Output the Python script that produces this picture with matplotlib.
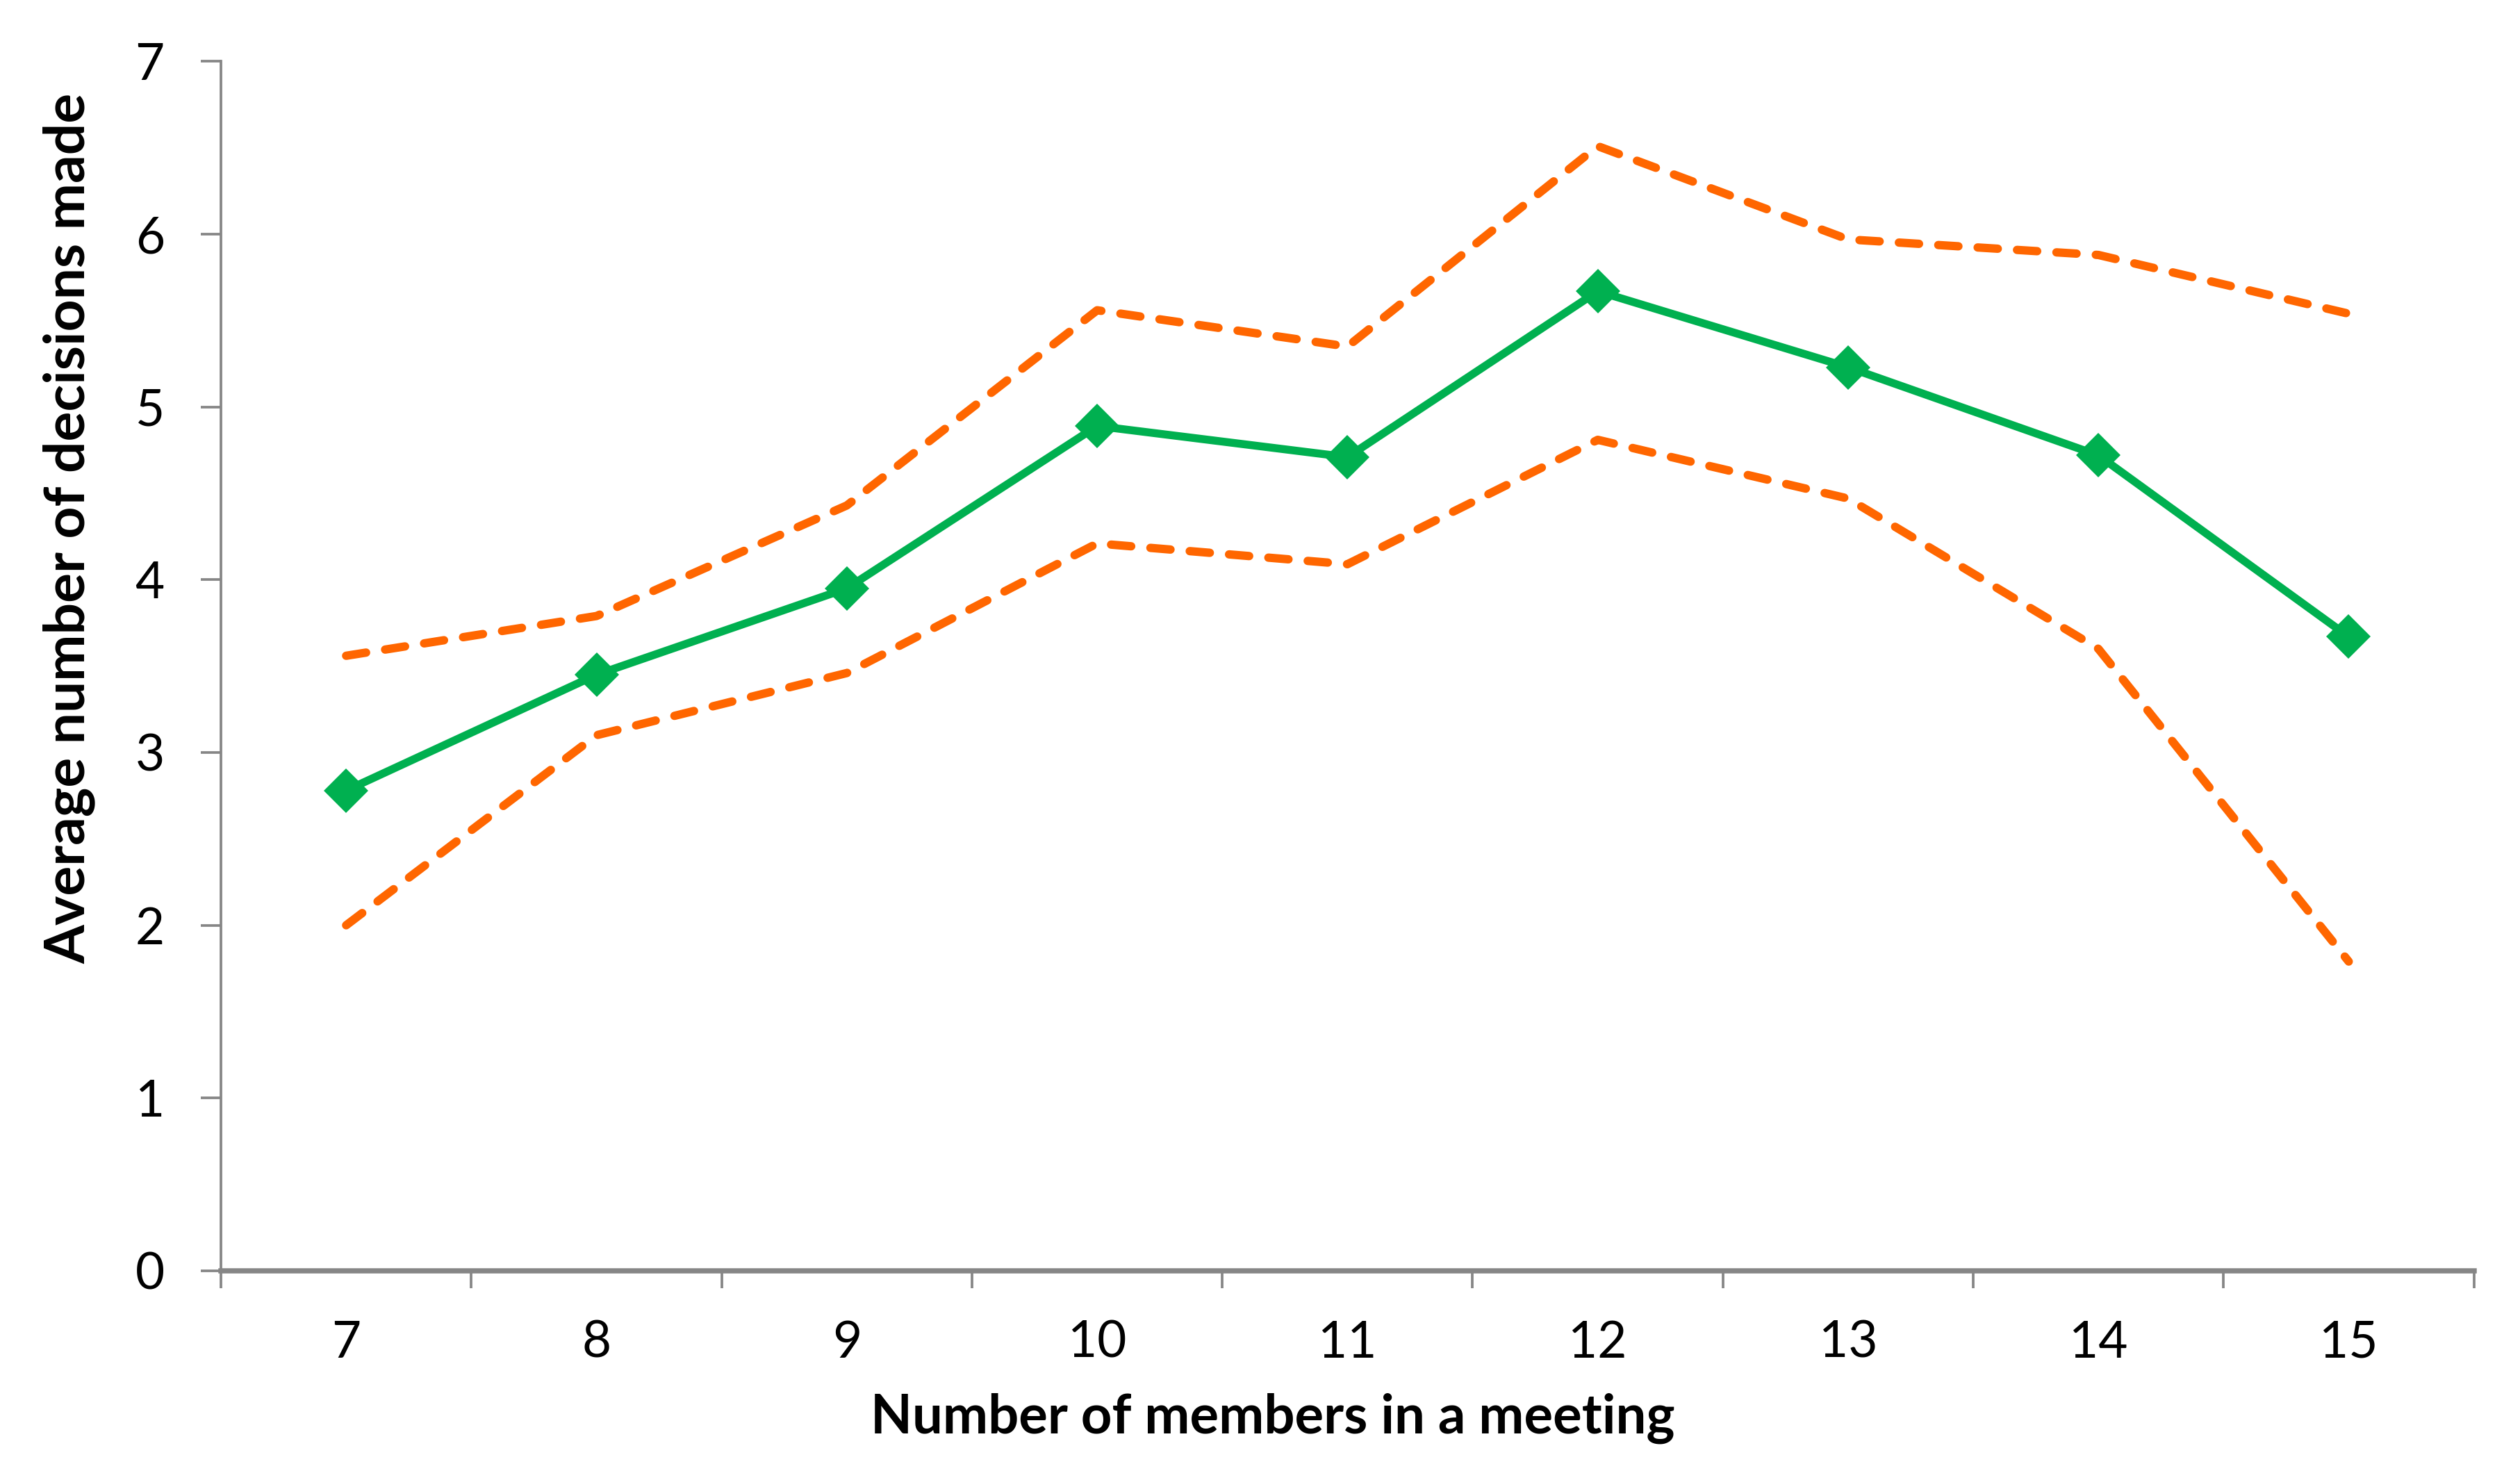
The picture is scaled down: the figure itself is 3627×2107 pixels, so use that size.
import matplotlib

matplotlib.use("Agg")

import matplotlib.pyplot as plt
from matplotlib.ticker import FixedLocator

members = [7, 8, 9, 10, 11, 12, 13, 14, 15]
avg_decisions = [2.78, 3.45, 3.95, 4.89, 4.71, 5.67, 5.23, 4.72, 3.67]
upper_bound = [3.56, 3.79, 4.43, 5.56, 5.35, 6.51, 5.97, 5.88, 5.54]
lower_bound = [2.00, 3.10, 3.46, 4.21, 4.09, 4.81, 4.47, 3.60, 1.79]
y_ticks = [0, 1, 2, 3, 4, 5, 6, 7]

GREEN = "#00B050"
ORANGE = "#FF6600"
AXIS_GREY = "#868686"

plt.rcParams["font.family"] = ["Lato", "DejaVu Sans"]

fig = plt.figure(figsize=(3627 / 300, 2107 / 300), dpi=300)
ax = fig.add_axes([0.0877, 0.132, 0.894, 0.826])

for bound in (upper_bound, lower_bound):
    ax.plot(members, bound, color=ORANGE, linewidth=2.9,
            linestyle=(0, (2.4, 2.3)), dash_capstyle="round", zorder=2)

ax.plot(members, avg_decisions, color=GREEN, linewidth=2.75,
        marker="D", markersize=11, markeredgewidth=0, zorder=3)

ax.set_xlim(6.5, 15.5)
ax.set_ylim(0, 7)
ax.set_xticks(members)
ax.set_xticklabels([str(m) for m in members])
ax.xaxis.set_minor_locator(FixedLocator([x + 0.5 for x in range(6, 16)]))
ax.set_yticks(y_ticks)

ax.tick_params(axis="x", which="major", length=0, pad=17, labelsize=17.5)
ax.tick_params(axis="x", which="minor", length=6, width=0.9,
               color=AXIS_GREY, direction="out")
ax.tick_params(axis="y", length=7, width=0.9, color=AXIS_GREY,
               direction="out", pad=12.5, labelsize=17.5)

for side in ("top", "right"):
    ax.spines[side].set_visible(False)
for side in ("left", "bottom"):
    ax.spines[side].set_color(AXIS_GREY)
    ax.spines[side].set_linewidth(0.9)
ax.spines["bottom"].set_linewidth(1.8)

ax.set_xlabel("Number of members in a meeting", fontsize=18.7,
              fontweight="bold", va="center")
ax.set_ylabel("Average number of decisions made", fontsize=19.3,
              fontweight="bold", va="center", ha="center")
# Excel placed both axis titles a little off the axis centre
ax.xaxis.set_label_coords(0.505, 0.031, transform=fig.transFigure)
ax.yaxis.set_label_coords(0.0275, 0.639, transform=fig.transFigure)

fig.savefig("out.png", dpi=300)
